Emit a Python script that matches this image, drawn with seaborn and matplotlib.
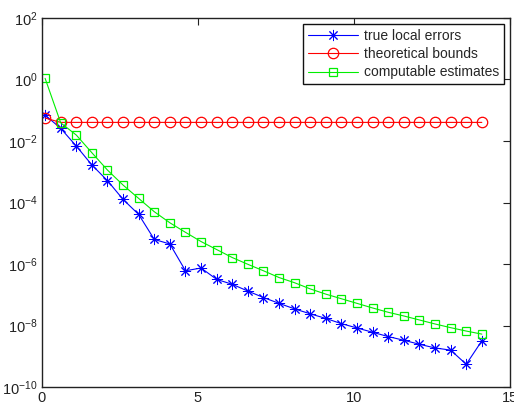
import numpy as np
import pandas as pd
import matplotlib
matplotlib.use("Agg")
import matplotlib.pyplot as plt
import seaborn as sns

# x positions (step 0.5 starting at 0.1)
x_vals = [0.1, 0.6, 1.1, 1.6, 2.1, 2.6, 3.1, 3.6, 4.1, 4.6, 5.1, 5.6, 6.1, 6.6, 7.1,
          7.6, 8.1, 8.6, 9.1, 9.6, 10.1, 10.6, 11.1, 11.6, 12.1, 12.6, 13.1, 13.6, 14.1]

# log10 of values
true_log = [-1.157, -1.59, -2.165, -2.78, -3.29, -3.90, -4.39, -5.20, -5.35, -6.22,
            -6.13, -6.50, -6.66, -6.88, -7.09, -7.28, -7.46, -7.62, -7.77, -7.94,
            -8.08, -8.22, -8.36, -8.48, -8.61, -8.73, -8.80, -9.26, -8.50]
bound_log = [-1.254] + [-1.395] * 28
est_log = [0.037, -1.41, -1.807, -2.383, -2.946, -3.434, -3.868, -4.30, -4.66, -4.97,
           -5.27, -5.53, -5.79, -6.01, -6.22, -6.44, -6.61, -6.81, -6.98, -7.13,
           -7.28, -7.43, -7.57, -7.69, -7.82, -7.95, -8.07, -8.18, -8.28]

labels = ["true local errors", "theoretical bounds", "computable estimates"]

true_err = [10 ** v for v in true_log]
bounds = [10 ** v for v in bound_log]
estimates = [10 ** v for v in est_log]

df = pd.DataFrame({"x": x_vals, "true": true_err, "bound": bounds, "est": estimates})

sns.set_style("white")
plt.rcParams['font.family'] = ['Liberation Sans', 'DejaVu Sans']
plt.rcParams['mathtext.fontset'] = 'custom'
plt.rcParams['mathtext.rm'] = 'Liberation Sans'
plt.rcParams['mathtext.it'] = 'Liberation Sans:italic'
plt.rcParams['mathtext.bf'] = 'Liberation Sans:bold'
plt.rcParams['mathtext.default'] = 'regular'

fig = plt.figure(figsize=(5.14, 4.07), dpi=100)
ax = fig.add_axes([0.0817, 0.0491, 0.9103, 0.9067])

sns.lineplot(data=df, x="x", y="true", ax=ax, color="#0000ff", marker=(8, 2, 0),
             markersize=8, markeredgecolor="#0000ff", markeredgewidth=0.7,
             linewidth=0.8, label=labels[0])
sns.lineplot(data=df, x="x", y="bound", ax=ax, color="#ff0000", marker="o",
             markersize=7.5, markerfacecolor="none", markeredgecolor="#ff0000",
             markeredgewidth=0.9, linewidth=0.8, label=labels[1])
sns.lineplot(data=df, x="x", y="est", ax=ax, color="#00ee00", marker="s",
             markersize=5.5, markerfacecolor="none", markeredgecolor="#00ee00",
             markeredgewidth=0.9, linewidth=0.8, label=labels[2])

ax.set_yscale("log")
ax.set_xlim(0, 15)
ax.set_ylim(1e-10, 1e2)
ax.set_xticks([0, 5, 10, 15])
ax.set_xticklabels(["0", "5", "10", "15"])
ax.set_yticks([1e-10, 1e-8, 1e-6, 1e-4, 1e-2, 1e0, 1e2])
ax.yaxis.set_minor_locator(matplotlib.ticker.NullLocator())
ax.set_xlabel("")
ax.set_ylabel("")
ax.tick_params(direction="in", length=5, width=0.8, top=True, right=True,
               labelsize=10.5, colors="#222222", pad=3)
for s in ax.spines.values():
    s.set_color("#222222")
    s.set_linewidth(1.0)

leg = ax.legend(loc="upper right", fontsize=10, frameon=True, fancybox=False,
                borderpad=0.35, labelspacing=0.3, handlelength=3.6, handletextpad=0.4,
                borderaxespad=0.45, edgecolor="#111111", framealpha=1)
leg.get_frame().set_linewidth(1.0)

fig.savefig("out.png", dpi=100)
